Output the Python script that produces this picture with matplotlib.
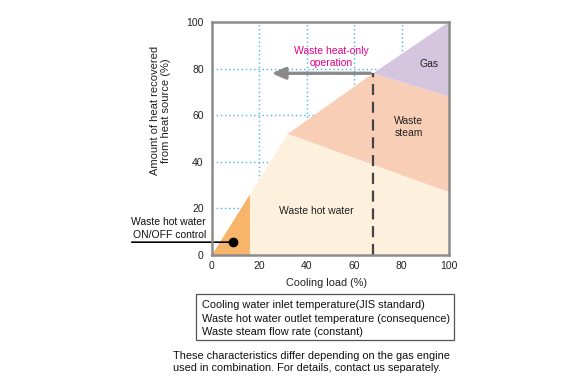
import matplotlib
matplotlib.use("Agg")
import matplotlib.pyplot as plt
from matplotlib.patches import Polygon, Rectangle

plt.rcParams['font.family'] = ['Liberation Sans', 'DejaVu Sans']

# Region boundaries (cooling load %, heat recovered %)
onoff_region = [(0, 0), (16, 26), (16, 0)]
hot_water_region = [(16, 0), (16, 26), (32, 52), (100, 27), (100, 0)]
steam_region = [(32, 52), (68, 78), (100, 68), (100, 27)]
gas_region = [(68, 78), (100, 100), (100, 68)]
switch_load = 68
switch_heat = 78
arrow_end = 24
dot_point = (9, 5.5)
ticks = [0, 20, 40, 60, 80, 100]
grid_vals = [20, 40, 60, 80]

fig = plt.figure(figsize=(5.8, 3.86), dpi=100)
ax = fig.add_axes([0.3655, 0.3394, 0.4086, 0.6036])
ax.set_xlim(0, 100)
ax.set_ylim(0, 100)

for g in grid_vals:
    ax.axvline(g, color='#4db3e6', ls=(0, (1, 2)), lw=1, zorder=1)
    ax.axhline(g, color='#4db3e6', ls=(0, (1, 2)), lw=1, zorder=1)

ax.add_patch(Polygon(hot_water_region, closed=True, fc='#fdf0dd', ec='none', zorder=2))
ax.add_patch(Polygon(onoff_region, closed=True, fc='#f8b46a', ec='none', zorder=2))
ax.add_patch(Polygon(steam_region, closed=True, fc='#f9ceb7', ec='none', zorder=2))
ax.add_patch(Polygon(gas_region, closed=True, fc='#d6c5df', ec='none', zorder=2))

ax.plot([switch_load, switch_load], [0, switch_heat], color='#444444', ls=(0, (5, 3)), lw=1.6, zorder=4)
ax.annotate('', xy=(arrow_end, switch_heat), xytext=(switch_load, switch_heat),
            arrowprops=dict(arrowstyle='-|>,head_length=0.8,head_width=0.35', color='#8a8a8a', lw=2.4),
            zorder=5)
ax.text(50.5, 85, 'Waste heat-only\noperation', color='#e8008a', fontsize=7.5,
        ha='center', va='center', linespacing=1.3, zorder=6)
ax.text(91.5, 82, 'Gas', fontsize=7.5, ha='center', va='center', color='#222222', zorder=6)
ax.text(83, 55, 'Waste\nsteam', fontsize=7.5, ha='center', va='center', color='#222222',
        linespacing=1.3, zorder=6)
ax.text(44, 19, 'Waste hot water', fontsize=7.5, ha='center', va='center', color='#222222', zorder=6)

ax.plot([dot_point[0]], [dot_point[1]], 'o', color='black', ms=6, zorder=7, clip_on=False)
ax.annotate('', xy=dot_point, xytext=(-35, dot_point[1]), textcoords='data',
            arrowprops=dict(arrowstyle='-', color='black', lw=1.2), annotation_clip=False, zorder=7)
ax.text(-2.5, 11.5, 'Waste hot water\nON/OFF control', fontsize=7.5, ha='right', va='center',
        color='#111111', linespacing=1.35, clip_on=False)

ax.set_xticks(ticks)
ax.set_yticks(ticks)
ax.tick_params(length=0, labelsize=7.5, colors='#222222')
ax.tick_params(axis='x', pad=4)
ax.tick_params(axis='y', pad=6)
for s in ax.spines.values():
    s.set_color('#8c8c8c')
    s.set_linewidth(1.8)
    s.set_zorder(8)
ax.set_xlabel('Cooling load (%)', fontsize=7.8, labelpad=5, color='#222222')
ax.xaxis.set_label_coords(0.485, -0.1)
ax.set_ylabel('Amount of heat recovered\nfrom heat source (%)', fontsize=8, labelpad=10,
              color='#222222', linespacing=1.1)
ax.yaxis.set_label_coords(-0.175, 0.62)

# Note box
fig.patches.append(Rectangle((196 / 580, 1 - 340 / 386), (454 - 196) / 580, (340 - 294) / 386,
                             transform=fig.transFigure, fill=False, ec='#555555', lw=0.9))
fig.text(202 / 580, 1 - 318.5 / 386,
         'Cooling water inlet temperature(JIS standard)\nWaste hot water outlet temperature (consequence)\nWaste steam flow rate (constant)',
         fontsize=7.9, ha='left', va='center', linespacing=1.38, color='#111111')
fig.text(173 / 580, 1 - 362 / 386,
         'These characteristics differ depending on the gas engine\nused in combination. For details, contact us separately.',
         fontsize=7.9, ha='left', va='center', linespacing=1.3, color='#111111')

fig.savefig('out.png', dpi=100)
